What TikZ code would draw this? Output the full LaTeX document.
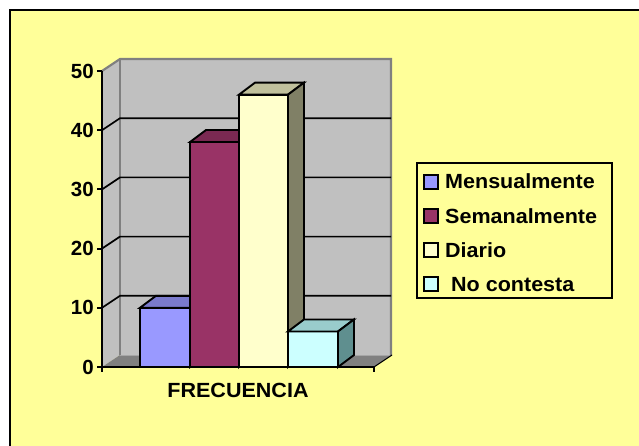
\documentclass[tikz,border=0pt]{standalone}
\usepackage{fontspec}
\setmainfont{Liberation Sans}
\definecolor{bgY}{HTML}{FFFF99}
\definecolor{wallgray}{HTML}{C0C0C0}
\definecolor{edgegray}{HTML}{808080}
\definecolor{floorgray}{HTML}{808080}
\definecolor{bAf}{HTML}{9999FF}\definecolor{bAt}{HTML}{7A7ACC}\definecolor{bAs}{HTML}{6B6BB3}
\definecolor{bBf}{HTML}{993366}\definecolor{bBt}{HTML}{7A2952}\definecolor{bBs}{HTML}{6B2447}
\definecolor{bCf}{HTML}{FFFFCC}\definecolor{bCt}{HTML}{C0C09C}\definecolor{bCs}{HTML}{808066}
\definecolor{bDf}{HTML}{CCFFFF}\definecolor{bDt}{HTML}{99CCCC}\definecolor{bDs}{HTML}{5F8F8F}
\newcommand\lblfont{\fontsize{20.5}{24}\selectfont\bfseries}
\newcommand\wtxt[1]{\scalebox{1.05}[1]{\lblfont #1}}
\newcommand\chartbar[7]{%
  \pgfmathsetmacro\yt{367-5.92*#3}%
  \filldraw[barline,fill=#4] (#1,367) rectangle (#2,\yt);
  \filldraw[barline,fill=#5] (#1,\yt) -- ({#1+16},{\yt-12}) -- ({#2+16},{\yt-12}) -- (#2,\yt) -- cycle;
  \filldraw[barline,fill=#6] (#2,\yt) -- ({#2+16},{\yt-12}) -- ({#2+16},355) -- (#2,367) -- cycle;
}
\begin{document}
\begin{tikzpicture}[x=1pt,y=-1pt,line join=miter,
  barline/.style={draw=black,line width=1.9pt},
  gridline/.style={draw=black,line width=1.7pt},
  axisline/.style={draw=black,line width=2pt},
  lbl/.style={inner sep=0pt,font=\lblfont}]
\useasboundingbox (0,0) rectangle (639,446);
\fill[white] (0,0) rectangle (639,446);
\fill[bgY] (10,10) rectangle (639,446);
\draw[line width=2pt] (10,446) -- (10,10) -- (639,10);
% walls
\fill[wallgray] (102,71) -- (120,59) -- (120,355) -- (102,367) -- cycle;
\fill[wallgray] (120,59) rectangle (392,355);
\fill[floorgray] (102,367) -- (374,367) -- (392,355) -- (120,355) -- cycle;
\draw[edgegray,line width=1.5pt] (120,355) -- (120,59);
\draw[edgegray,line width=2.2pt] (102,71) -- (120,59) -- (391,59) -- (391,355);
\draw[edgegray!70!white,line width=1pt] (120,355) -- (391,355);
\draw[black,line width=1pt] (374,367) -- (392,355);
% grid
\foreach \v in {10,20,30,40}
  \draw[gridline] (102,{367-5.92*\v}) -- (120,{355-5.92*\v}) -- (391,{355-5.92*\v});
% bars
\chartbar{140}{190}{10}{bAf}{bAt}{bAs}{}
\chartbar{190}{239}{38}{bBf}{bBt}{bBs}{}
\chartbar{239}{288}{46}{bCf}{bCt}{bCs}{}
\chartbar{288}{338}{6}{bDf}{bDt}{bDs}{}
% axes
\draw[axisline] (102,71) -- (102,372);
\draw[axisline] (102,367) -- (374,367) -- (374,372);
\foreach \v in {0,10,20,30,40,50}{
  \draw[axisline] (97,{367-5.92*\v}) -- (102,{367-5.92*\v});
  \node[lbl,anchor=east] (y\v) at (94,{367-5.92*\v}) {\v};
}
\node[anchor=base,inner sep=0pt] (xlab) at (238,397) {\wtxt{FRECUENCIA}};
% legend
\draw[line width=2pt] (417,163) rectangle (612,298);
\foreach \c/\t/\y/\n in {bAf/Mensualmente/189/a,bBf/Semanalmente/223/b,bCf/Diario/257/c,bDf/{\ No contesta}/291/d}{
  \filldraw[draw=black,line width=1.7pt,fill=\c] (424,{\y-14}) rectangle (438,\y);
  \node[anchor=base west,inner sep=0pt] (leg\n) at (445,\y) {\wtxt{\t}};
}
\end{tikzpicture}
\end{document}
